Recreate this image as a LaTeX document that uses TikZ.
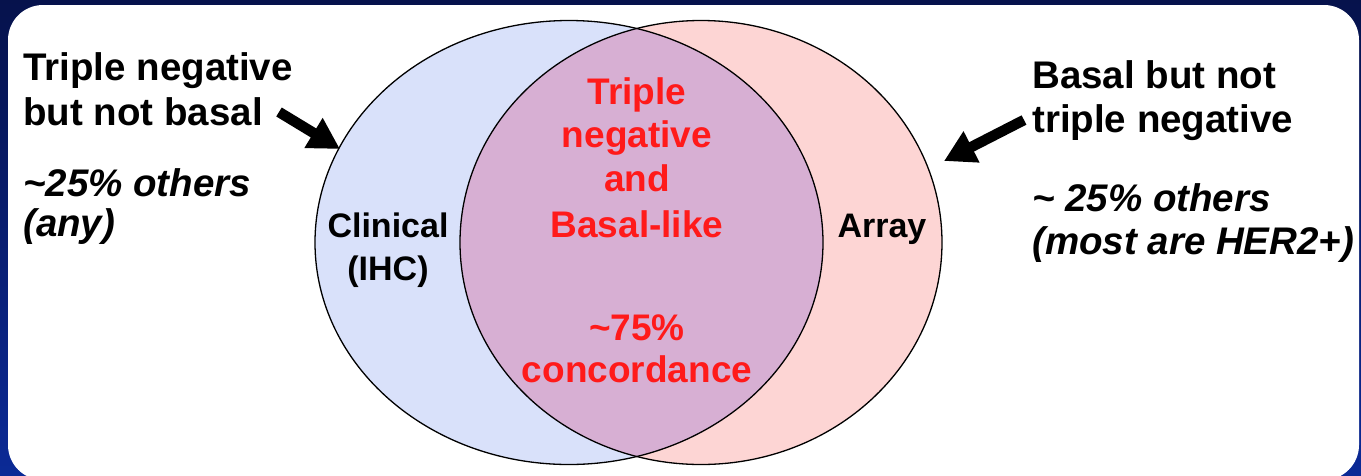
\documentclass[tikz,border=0pt]{standalone}
\usepackage{fontspec}
\setmainfont{Liberation Sans}
\usetikzlibrary{arrows.meta}
\definecolor{bgtop}{HTML}{06124C}
\definecolor{bgbot}{HTML}{0B2A96}
\definecolor{leftfill}{HTML}{D9E1FA}
\definecolor{rightfill}{HTML}{FDD5D4}
\definecolor{midfill}{HTML}{D7AFD3}
\definecolor{redtxt}{HTML}{FF1A1A}
\begin{document}
\begin{tikzpicture}[x=1pt,y=-1pt,
  lbl/.style={anchor=base west, inner sep=0pt, font=\fontsize{38.5}{42}\selectfont\bfseries},
  lbli/.style={anchor=base west, inner sep=0pt, font=\fontsize{38.5}{42}\selectfont\bfseries\itshape},
  ctr/.style={anchor=base, inner sep=0pt, text=redtxt, font=\fontsize{37}{42}\selectfont\bfseries},
  setl/.style={anchor=base, inner sep=0pt, font=\fontsize{34}{40}\selectfont\bfseries},
  setedge/.style={draw=black, line width=1.3pt},
  bigarrow/.style={line width=10.5pt, -{Triangle[length=31pt,width=33pt]}}]
\useasboundingbox (0,0) rectangle (1361,475);
\shade[top color=bgtop, bottom color=bgbot] (0,0) rectangle (1361,475);
\fill[white, rounded corners=35pt] (8,5) rectangle (1359,480);

% sets
\coordinate (cl) at (569,242.5);
\coordinate (cr) at (701,242.5);
\fill[leftfill] (cl) ellipse [x radius=254pt, y radius=222pt];
\fill[rightfill] (cr) ellipse [x radius=241pt, y radius=222pt];
\begin{scope}
  \clip (cl) ellipse [x radius=254pt, y radius=222pt];
  \fill[midfill] (cr) ellipse [x radius=241pt, y radius=222pt];
\end{scope}
\draw[setedge] (cl) ellipse [x radius=254pt, y radius=222pt];
\draw[setedge] (cr) ellipse [x radius=241pt, y radius=222pt];

% left labels
\node[lbl] (l1) at (23,80) {Triple negative};
\node[lbl] (l2) at (23,125) {but not basal};
\node[lbli] (l3) at (23,196) {\char`\~25\% others};
\node[lbli] (l4) at (23,236) {(any)};

% right labels
\node[lbl] (r1) at (1032,88) {Basal but not};
\node[lbl] (r2) at (1032,132) {triple negative};
\node[lbli] (r3) at (1032,211) {\char`\~\ 25\% others};
\node[lbli] (r4) at (1032,254) {(most are HER2+)};

% set names
\node[setl] (clin) at (388,237) {Clinical};
\node[setl] (ihc) at (388,280) {(IHC)};
\node[setl] (arr) at (882,237) {Array};

% centre
\node[ctr] (c1) at (637,104) {Triple};
\node[ctr] (c2) at (637,147) {negative};
\node[ctr] (c3) at (637,191) {and};
\node[ctr] (c4) at (637,237) {Basal-like};
\node[ctr] (c5) at (637,340) {\char`\~75\%};
\node[ctr] (c6) at (637,382) {concordance};

% arrows
\coordinate (la0) at (279,112);
\coordinate (la1) at (340,149);
\coordinate (ra0) at (1024,120);
\coordinate (ra1) at (944,161);
\draw[bigarrow] (la0) -- (la1);
\draw[bigarrow] (ra0) -- (ra1);
\end{tikzpicture}
\end{document}
